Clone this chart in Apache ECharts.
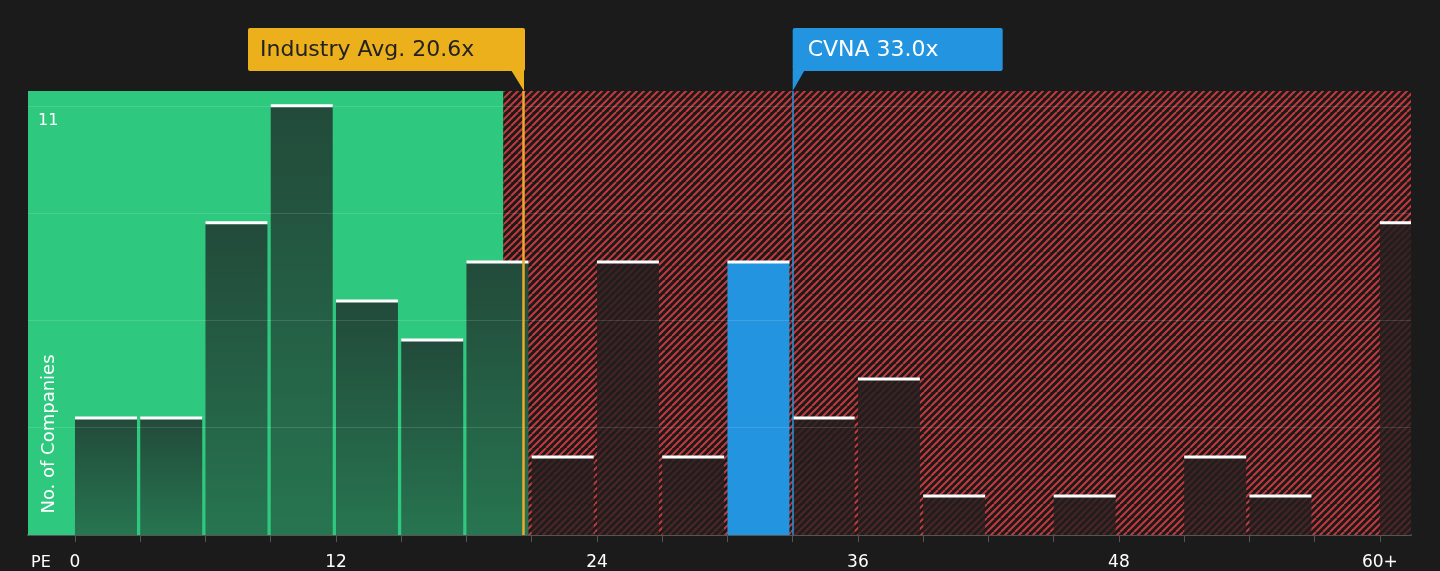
<!DOCTYPE html>
<html><head><meta charset="utf-8">
<script src="https://cdn.jsdelivr.net/npm/echarts@6/dist/echarts.min.js"></script>
<style>html,body{margin:0;background:#1b1b1b}#c{width:1440px;height:571px}</style>
</head><body><div id="c"></div>
<script>
const binStarts = [0,3,6,9,12,15,18,21,24,27,30,33,36,39,42,45,48,51,54,57,60];
const counts    = [3,3,8,11,6,5,7,2,7,2,7,3,4,1,0,1,0,2,1,0,8];
const tickLabels = {0:'0',12:'12',24:'24',36:'36',48:'48',60:'60+'};
const gridValues = [2.75,5.5,8.25,11];
const industryAvg = 20.6, cvna = 33.0, fairEdge = 19.7;
const xMin = -2.16, xMax = 61.43, binWidth = 2.85;

const chart = echarts.init(document.getElementById('c'));
const pc = document.createElement('canvas'); pc.width = 14; pc.height = 14;
const g = pc.getContext('2d');
g.fillStyle = '#1c1919'; g.fillRect(0,0,14,14);
g.strokeStyle = '#c23a3f'; g.lineWidth = 2;
for (let k=-14;k<=28;k+=7){ g.beginPath(); g.moveTo(k,14); g.lineTo(k+14,0); g.stroke(); }

const ticks = []; for (let v=0; v<=60; v+=3) ticks.push(v);
const T = {fontFamily:'DejaVu Sans'};
chart.setOption({
  backgroundColor:'#1b1b1b', animation:false,
  grid:{left:28,right:29,top:91,bottom:36},
  xAxis:{type:'value',min:xMin,max:xMax,splitLine:{show:false},
    axisLine:{lineStyle:{color:'#555',width:2}},
    axisTick:{customValues:ticks,length:7,lineStyle:{color:'#555'}},
    axisLabel:{customValues:[0,12,24,36,48,60],formatter:v=>tickLabels[v],color:'#fff',fontSize:17,margin:19,fontFamily:'DejaVu Sans'}},
  yAxis:{type:'value',min:0,max:11.38,axisLabel:{show:false},axisLine:{show:false},axisTick:{show:false},splitLine:{show:false}},
  series:[
    {type:'line',data:[],z:1,markArea:{silent:true,data:[
      [{xAxis:xMin,itemStyle:{color:'#2ec87f'}},{xAxis:fairEdge}],
      [{xAxis:fairEdge,itemStyle:{color:{image:pc,repeat:'repeat'}}},{xAxis:xMax}]]}},
    {type:'line',data:[],z:2,markLine:{silent:true,symbol:'none',label:{show:false},
      lineStyle:{color:'rgba(255,255,255,0.13)',width:1,type:'solid'},data:gridValues.map(v=>({yAxis:v}))}},
    {type:'custom',clip:true,z:3,data:binStarts.map((s,i)=>[s,counts[i]]),
      renderItem(params,api){
        const s=api.value(0), c=api.value(1); if(!c) return;
        const p0=api.coord([s,0]), p1=api.coord([s+binWidth,c]);
        const x=p0[0], w=p1[0]-p0[0], y=p1[1], h=p0[1]-p1[1];
        let fill;
        if (Math.abs(s-30)<0.01) fill='#2394e0';
        else if (s<fairEdge) fill={type:'linear',x:0,y:0,x2:0,y2:1,colorStops:[{offset:0,color:'#224a3a'},{offset:1,color:'#277550'}]};
        else fill={type:'linear',x:0,y:0,x2:0,y2:1,colorStops:[{offset:0,color:'rgba(36,30,30,0.85)'},{offset:1,color:'rgba(36,30,30,0.72)'}]};
        return {type:'group',children:[
          {type:'rect',shape:{x,y,width:w,height:h},style:{fill}},
          {type:'rect',shape:{x,y:y-1.5,width:w,height:3},style:{fill:'#ffffff'}}]};
      }},
    {type:'line',data:[],z:5,markLine:{silent:true,symbol:'none',label:{show:false},data:[
      {xAxis:industryAvg,lineStyle:{color:'#f0a928',width:2.5,type:'solid'}},
      {xAxis:cvna,lineStyle:{color:'#2394e0',width:1.5,type:'solid'}}]}}
  ]
});
const ia = chart.convertToPixel({xAxisIndex:0},industryAvg);
const cv = chart.convertToPixel({xAxisIndex:0},cvna);
chart.setOption({graphic:[
  {type:'rect',z:100,shape:{x:248,y:28,width:ia-248+2,height:43,r:2},style:{fill:'#ebb01c'}},
  {type:'polygon',z:100,shape:{points:[[ia-12,70],[ia+1,70],[ia+1,91]]},style:{fill:'#ebb01c'}},
  {type:'text',z:101,x:260,y:50,style:Object.assign({text:'Industry Avg. 20.6x',fill:'#222',fontSize:22,verticalAlign:'middle'},T)},
  {type:'rect',z:100,shape:{x:cv,y:28,width:210,height:43,r:2},style:{fill:'#2394e0'}},
  {type:'polygon',z:100,shape:{points:[[cv,70],[cv+12,70],[cv,91]]},style:{fill:'#2394e0'}},
  {type:'text',z:101,x:cv+15,y:50,style:Object.assign({text:'CVNA 33.0x',fill:'#fff',fontSize:22,verticalAlign:'middle'},T)},
  {type:'text',z:101,x:38,y:121,style:Object.assign({text:'11',fill:'#fff',fontSize:16,verticalAlign:'middle'},T)},
  {type:'text',z:101,x:49,y:434,rotation:Math.PI/2,style:Object.assign({text:'No. of Companies',fill:'#fff',fontSize:18,align:'center',verticalAlign:'middle'},T)},
  {type:'text',z:101,x:31,y:563,style:Object.assign({text:'PE',fill:'#fff',fontSize:16,verticalAlign:'middle'},T)}
]});
</script></body></html>
